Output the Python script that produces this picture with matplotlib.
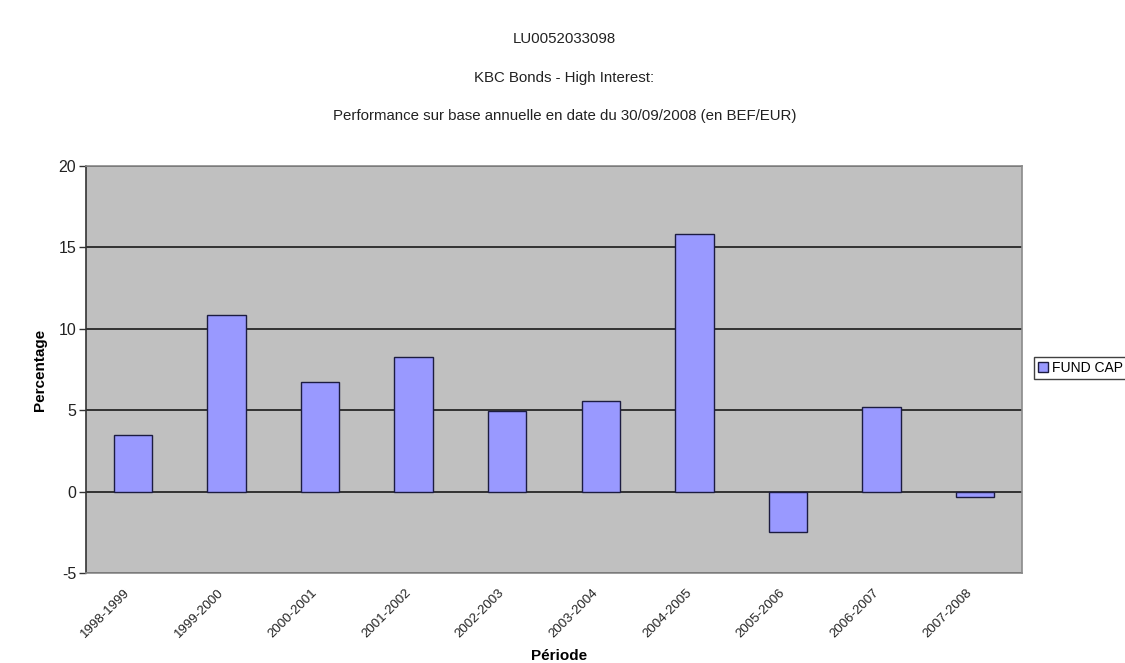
import matplotlib
matplotlib.use("Agg")
import matplotlib.pyplot as plt
import matplotlib.transforms as mtransforms
from matplotlib.patches import Patch

# Annual performance of the fund per period (%)
periods = ["1998-1999", "1999-2000", "2000-2001", "2001-2002", "2002-2003",
           "2003-2004", "2004-2005", "2005-2006", "2006-2007", "2007-2008"]
performance = [3.48, 10.82, 6.75, 8.29, 4.95, 5.57, 15.8, -2.46, 5.19, -0.35]
y_ticks = [-5, 0, 5, 10, 15, 20]

title_lines = ["LU0052033098",
               "KBC Bonds - High Interest:",
               "Performance sur base annuelle en date du 30/09/2008 (en BEF/EUR)"]
series_name = "FUND CAP"

plt.rcParams["font.family"] = ["Liberation Sans", "DejaVu Sans"]

fig = plt.figure(figsize=(11.25, 6.63), dpi=100)
fig.patch.set_facecolor("white")
ax = fig.add_axes([0.0764, 0.1357, 0.832, 0.6139])
ax.set_facecolor("#C0C0C0")

x = list(range(len(periods)))
ax.bar(x, performance, width=0.41, color="#9999FF", edgecolor="#1c1c40",
       linewidth=1.0, zorder=3)

ax.set_xlim(-0.5, len(periods) - 0.5)
ax.set_ylim(-5, 20)
ax.set_yticks(y_ticks)
ax.set_yticklabels([str(t) for t in y_ticks], fontsize=11.5, color="#222222")
ax.yaxis.grid(True, color="#1a1a1a", linewidth=1.2, zorder=1)
ax.set_axisbelow(True)

ax.set_xticks(x)
ax.set_xticklabels(periods, rotation=45, ha="right", rotation_mode="anchor",
                   fontsize=9.5, color="#222222")
ax.tick_params(axis="x", length=0, pad=10)
ax.tick_params(axis="y", length=5, width=1, color="#333333", pad=2)

# Nudge the slanted period labels so they end just left of each category
shift = mtransforms.ScaledTranslation(-9 / 100, 0, fig.dpi_scale_trans)
for lbl in ax.get_xticklabels():
    lbl.set_transform(lbl.get_transform() + shift)

for side in ["top", "right", "bottom"]:
    ax.spines[side].set_color("#8a8a8a")
    ax.spines[side].set_linewidth(1.2)
ax.spines["left"].set_color("#333333")
ax.spines["left"].set_linewidth(1.2)

ax.set_ylabel("Percentage", fontsize=11, fontweight="bold", labelpad=8)
ax.set_xlabel("Période", fontsize=11, fontweight="bold")
ax.xaxis.set_label_coords(0.505, -0.186)

# Stacked chart titles
for line, ypos in zip(title_lines, [0.941, 0.882, 0.825]):
    fig.text(0.5018, ypos, line, ha="center", va="center", fontsize=10.8,
             color="#222222")

# Legend box, its frame running past the right edge of the figure
handle = Patch(facecolor="#9999FF", edgecolor="#1c1c40", linewidth=1)
leg = fig.legend([handle], [series_name], loc="upper left",
                 bbox_to_anchor=(1034 / 1125, 1 - 357 / 663), fontsize=10,
                 frameon=True, fancybox=False, borderpad=0.3,
                 handlelength=0.7, handleheight=0.7, handletextpad=0.3,
                 borderaxespad=0)
leg.get_frame().set_edgecolor("#111111")
leg.get_frame().set_linewidth(1.0)

fig.savefig("out.png", dpi=100, facecolor="white")
